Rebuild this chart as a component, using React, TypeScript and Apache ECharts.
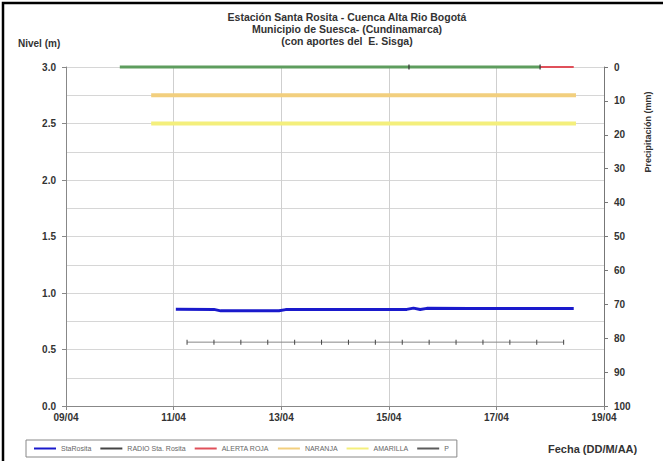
import React, { useEffect, useRef } from "react";
import * as echarts from "echarts";

// ---- data (times "DD/MM hh:mm", April) ----
const xTickLabels = ["09/04", "11/04", "13/04", "15/04", "17/04", "19/04"];

const staRositaTimes = ["11/04 01:00", "11/04 18:00", "11/04 21:00", "12/04 12:00", "12/04 23:00", "13/04 02:00", "14/04 00:00", "15/04 00:00", "15/04 08:00", "15/04 11:00", "15/04 14:00", "15/04 17:00", "16/04 12:00", "17/04 12:00", "18/04 10:30"];
const staRositaValues = [0.856, 0.855, 0.842, 0.842, 0.843, 0.853, 0.854, 0.854, 0.855, 0.866, 0.854, 0.864, 0.862, 0.862, 0.862];

const radioTimes = ["11/04 06:00", "11/04 18:00", "12/04 06:00", "12/04 18:00", "13/04 06:00", "13/04 18:00", "14/04 06:00", "14/04 18:00", "15/04 06:00", "15/04 18:00", "16/04 06:00", "16/04 18:00", "17/04 06:00", "17/04 18:00", "18/04 06:00"];
const radioValues = [0.565, 0.565, 0.565, 0.565, 0.565, 0.565, 0.565, 0.565, 0.565, 0.565, 0.565, 0.565, 0.565, 0.565, 0.565];

const greenTimes = ["10/04 00:00", "17/04 19:30"];
const greenValues = [3.0, 3.0];
const rojaTimes = ["17/04 19:30", "18/04 10:30"];
const rojaValues = [3.0, 3.0];
const naranjaTimes = ["10/04 14:00", "18/04 11:30"];
const naranjaValues = [2.75, 2.75];
const amarillaTimes = ["10/04 14:00", "18/04 11:30"];
const amarillaValues = [2.5, 2.5];

const pTimes = ["15/04 09:00", "17/04 19:30"];
const pValues = [0, 0];

// day offset from 09/04 00:00
function toDay(s: string): number {
  const [d, t] = s.split(" ");
  const day = parseInt(d.split("/")[0], 10);
  const [h, m] = t.split(":").map((v) => parseInt(v, 10));
  return day - 9 + (h + m / 60) / 24;
}
function pairs(times: string[], vals: number[]) {
  return times.map((t, i) => [toDay(t), vals[i]]);
}

const FONT = "'Liberation Sans', Arial, sans-serif";

export default function App() {
  const ref = useRef<HTMLDivElement>(null);
  useEffect(() => {
    if (!ref.current) return;
    const chart = echarts.init(ref.current, null, { renderer: "svg" });
    const lblStyle = { color: "#333", fontSize: 10, fontWeight: "bold" as const, fontFamily: FONT };
    chart.setOption({
      animation: false,
      backgroundColor: "#fff",
      textStyle: { fontFamily: FONT },
      grid: { left: 66, right: 59, top: 67, bottom: 55, containLabel: false },
      xAxis: {
        type: "value",
        min: 0,
        max: 10,
        interval: 2,
        axisLine: { show: true, onZero: false, lineStyle: { color: "#888", width: 1 } },
        axisTick: { show: true, length: 4, lineStyle: { color: "#888" } },
        axisLabel: {
          ...lblStyle,
          margin: 6,
          formatter: (v: number) => xTickLabels[Math.round(v / 2)] ?? "",
        },
        splitLine: { show: true, lineStyle: { color: "#cfcfcf", width: 1 } },
      },
      yAxis: [
        {
          type: "value",
          min: 0,
          max: 3,
          interval: 0.5,
          axisLine: { show: true, lineStyle: { color: "#888", width: 1 } },
          axisTick: { show: true, length: 4, lineStyle: { color: "#888" } },
          axisLabel: { ...lblStyle, margin: 10, formatter: (v: number) => v.toFixed(1) },
          splitLine: { show: true, lineStyle: { color: "#d6d6d6", width: 1 } },
          minorTick: { show: false, splitNumber: 2 },
          minorSplitLine: { show: true, lineStyle: { color: "#d6d6d6", width: 1 } },
        },
        {
          type: "value",
          min: 0,
          max: 100,
          interval: 10,
          inverse: true,
          position: "right",
          axisLine: { show: true, lineStyle: { color: "#777", width: 1 } },
          axisTick: { show: true, length: 4, inside: false, lineStyle: { color: "#777" } },
          axisLabel: { ...lblStyle, margin: 10 },
          splitLine: { show: false },
        },
      ],
      legend: {
        left: 26,
        top: 440,
        orient: "horizontal",
        padding: [5, 8],
        itemGap: 9,
        itemWidth: 22,
        itemHeight: 2,
        borderColor: "#888",
        borderWidth: 1,
        backgroundColor: "#fff",
        textStyle: { fontSize: 7, color: "#666", fontFamily: FONT },
        data: [
          { name: "StaRosita", icon: "rect" },
          { name: "RADIO Sta. Rosita", icon: "rect" },
          { name: "ALERTA ROJA", icon: "rect" },
          { name: "NARANJA", icon: "rect" },
          { name: "AMARILLA", icon: "rect" },
          { name: "P", icon: "rect" },
        ],
      },
      series: [
        {
          name: "Umbral",
          type: "line",
          data: pairs(greenTimes, greenValues),
          showSymbol: false,
          clip: false,
          lineStyle: { color: "#5e9d5e", width: 3 },
          itemStyle: { color: "#5e9d5e" },
          z: 3,
        },
        {
          name: "AMARILLA",
          type: "line",
          data: pairs(amarillaTimes, amarillaValues),
          showSymbol: false,
          lineStyle: { color: "#f4ef7c", width: 4 },
          itemStyle: { color: "#f4ef7c" },
          z: 2,
        },
        {
          name: "NARANJA",
          type: "line",
          data: pairs(naranjaTimes, naranjaValues),
          showSymbol: false,
          lineStyle: { color: "#f2cf7e", width: 4 },
          itemStyle: { color: "#f2cf7e" },
          z: 2,
        },
        {
          name: "ALERTA ROJA",
          type: "line",
          data: pairs(rojaTimes, rojaValues),
          showSymbol: false,
          clip: false,
          lineStyle: { color: "#e0505a", width: 2 },
          itemStyle: { color: "#e0505a" },
          z: 3,
        },
        {
          name: "StaRosita",
          type: "line",
          data: pairs(staRositaTimes, staRositaValues),
          showSymbol: false,
          lineStyle: { color: "#1a1acc", width: 3 },
          itemStyle: { color: "#1a1acc" },
          z: 4,
        },
        {
          name: "RADIO Sta. Rosita",
          type: "line",
          data: pairs(radioTimes, radioValues),
          symbol: "rect",
          symbolSize: [1, 5],
          showSymbol: true,
          lineStyle: { color: "#888", width: 1 },
          itemStyle: { color: "#444" },
          z: 4,
        },
        {
          name: "P",
          type: "scatter",
          yAxisIndex: 1,
          data: pairs(pTimes, pValues),
          symbol: "rect",
          symbolSize: [1.5, 5],
          clip: false,
          itemStyle: { color: "#333" },
          z: 5,
        },
      ],
      graphic: [
        {
          type: "rect",
          shape: { x: 3, y: 3, width: 700, height: 500 },
          style: { fill: "none", stroke: "#000", lineWidth: 2.5 },
          silent: true,
        },
        {
          type: "text",
          x: 347,
          y: 11,
          style: {
            text: "Estación Santa Rosita - Cuenca Alta Rio Bogotá\nMunicipio de Suesca- (Cundinamarca)\n(con aportes del  E. Sisga)",
            align: "center",
            fontSize: 10.5,
            lineHeight: 12,
            fontWeight: "bold",
            fontFamily: FONT,
            fill: "#333",
          },
        },
        {
          type: "text",
          x: 18,
          y: 38,
          style: { text: "Nivel (m)", fontSize: 10, fontWeight: "bold", fontFamily: FONT, fill: "#333" },
        },
        {
          type: "text",
          x: 648,
          y: 132,
          rotation: Math.PI / 2,
          style: {
            text: "Precipitación (mm)",
            align: "center",
            verticalAlign: "middle",
            fontSize: 9,
            fontWeight: "bold",
            fontFamily: FONT,
            fill: "#333",
          },
        },
        {
          type: "text",
          x: 548,
          y: 443,
          style: { text: "Fecha (DD/M/AA)", fontSize: 11, fontWeight: "bold", fontFamily: FONT, fill: "#333" },
        },
      ],
    });
    return () => chart.dispose();
  }, []);
  return (
    <div
      ref={ref}
      style={{ position: "fixed", left: 0, top: 0, width: 663, height: 461, background: "#fff" }}
    />
  );
}
